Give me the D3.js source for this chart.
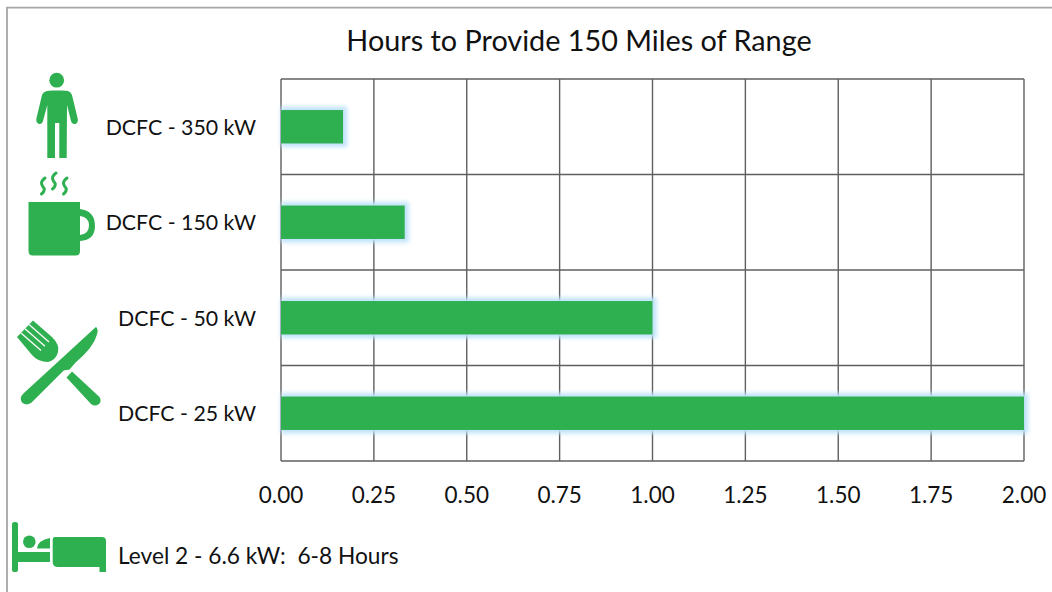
<!DOCTYPE html>
<html>
<head>
<meta charset="utf-8">
<script src="https://cdn.jsdelivr.net/npm/d3@7"></script>
<style>
  html, body { margin: 0; padding: 0; background: #fff; }
  text { font-family: Lato, "Open Sans", sans-serif; fill: #111; white-space: pre; }
</style>
</head>
<body>
<div id="chart"></div>
<script>
const categories = ["DCFC - 350 kW", "DCFC - 150 kW", "DCFC - 50 kW", "DCFC - 25 kW"];
const hours = [0.167, 0.333, 1.0, 2.0];
const xTicks = [0, 0.25, 0.5, 0.75, 1, 1.25, 1.5, 1.75, 2];
const chartTitle = "Hours to Provide 150 Miles of Range";
const footnote = "Level 2 - 6.6 kW:  6-8 Hours";

const outerWidth = 1052, outerHeight = 592;
const margin = { left: 281, top: 79, right: 28, bottom: 131 };
const green = "#2fb050", gridColor = "#5f5f5f";

const x = d3.scaleLinear().domain([0, 2]).range([margin.left, outerWidth - margin.right]);
const y = d3.scaleBand().domain(categories)
    .range([margin.top, outerHeight - margin.bottom])
    .paddingInner(0.65).paddingOuter(0.325);
const rows = d3.scaleBand().domain(categories)
    .range([margin.top, outerHeight - margin.bottom]);

const svg = d3.select("#chart").append("svg")
    .attr("width", outerWidth)
    .attr("height", outerHeight)
    .style("display", "block");

const defs = svg.append("defs");
const glow = defs.append("filter").attr("id", "glow")
    .attr("x", "-10%").attr("y", "-40%").attr("width", "120%").attr("height", "180%");
glow.append("feGaussianBlur").attr("stdDeviation", 2.2);

// picture frame, only top and left show
svg.append("path")
    .attr("d", d3.line()([[7, outerHeight], [7, 7.7], [outerWidth, 7.7]]))
    .attr("fill", "none").attr("stroke", "#a6a6a6").attr("stroke-width", 1.8);

svg.append("text")
    .attr("x", 579).attr("y", 51)
    .attr("text-anchor", "middle")
    .style("font-size", "28.8px")
    .text(chartTitle);

// gridlines
const grid = svg.append("g").attr("fill", "none").attr("stroke", gridColor).attr("stroke-width", 1.4);
grid.selectAll(".v").data(xTicks).enter().append("line")
    .attr("x1", d => x(d)).attr("x2", d => x(d))
    .attr("y1", margin.top).attr("y2", outerHeight - margin.bottom);
grid.selectAll(".h").data(categories.concat("end")).enter().append("line")
    .attr("x1", margin.left).attr("x2", outerWidth - margin.right)
    .attr("y1", (d, i) => margin.top + i * rows.step())
    .attr("y2", (d, i) => margin.top + i * rows.step());

// bars with the pale blue halo
svg.append("g").attr("filter", "url(#glow)").selectAll("rect")
    .data(hours).enter().append("rect")
    .attr("x", x(0))
    .attr("y", (d, i) => y(categories[i]) - 3.5)
    .attr("width", d => x(d) - x(0) + 4)
    .attr("height", y.bandwidth() + 7)
    .attr("fill", "#bfe3fa");
svg.append("g").selectAll("rect")
    .data(hours).enter().append("rect")
    .attr("x", x(0))
    .attr("y", (d, i) => y(categories[i]))
    .attr("width", d => x(d) - x(0))
    .attr("height", y.bandwidth())
    .attr("fill", green);

// category labels
svg.append("g").selectAll("text")
    .data(categories).enter().append("text")
    .attr("x", 256)
    .attr("y", d => rows(d) + rows.bandwidth() / 2 + 8)
    .attr("text-anchor", "end")
    .style("font-size", "21.3px")
    .text(d => d);

// x axis labels
svg.append("g").selectAll("text")
    .data(xTicks).enter().append("text")
    .attr("x", d => x(d))
    .attr("y", 503)
    .attr("text-anchor", "middle")
    .style("font-size", "22.5px")
    .text(d => d.toFixed(2));

svg.append("text")
    .attr("x", 118).attr("y", 564)
    .style("font-size", "22.7px")
    .text(footnote);

// icons
const icons = svg.append("g").attr("fill", green);

// person
const person = icons.append("g");
person.append("circle").attr("cx", 56.7).attr("cy", 80.2).attr("r", 7.4);
person.append("path").attr("d",
  "M47 91 Q49 90.5 52 90.5 L62 90.5 Q66 90.5 68 91 Q71 92 72 95 L77.8 119 Q78.3 123 75.3 124 Q72 124.5 71 121 L67 105 L66.7 158 L59.3 158 L59.3 123 L55 123 L55 158 L47.3 158 L47.3 105 L43 121 Q42 124.5 39 124 Q36 123 36.3 119 L42 95 Q43 92 47 91 Z");

// mug
icons.append("path").attr("fill-rule", "evenodd").attr("d",
  "M28.5 202 L80 202 L80 209 Q95 211 95 226 Q95 240 80 241 L80 251 Q80 255.5 75.5 255.5 L33 255.5 Q28.5 255.5 28.5 251 Z M80 216 L80 235 Q89 234 89 225.5 Q89 217 80 216 Z");
// steam
icons.append("g").attr("fill", "none").attr("stroke", green).attr("stroke-width", 3).attr("stroke-linecap", "round")
  .selectAll("path").data([[43, 178], [54, 173], [65, 178]]).enter().append("path")
  .attr("transform", d => "translate(" + d[0] + "," + d[1] + ")")
  .attr("d", "M2 0 Q-3.5 4 -0.5 8 Q3.5 12 -1.5 16");

// fork and knife
const cutlery = icons.append("g");
cutlery.append("path").attr("d",
  "M33 320.5 L52 337 Q60 345 58 352 Q56 360 48 362 Q38 362 32 355 L17 337 Z");
cutlery.append("g").attr("stroke", "#fff").attr("stroke-width", 1.3)
  .selectAll("line").data([[29, 324.6], [25, 328.7], [21, 332.9]]).enter().append("line")
  .attr("x1", d => d[0]).attr("y1", d => d[1])
  .attr("x2", d => d[0] + 20).attr("y2", d => d[1] + 17.5);
cutlery.append("path").attr("stroke", "#fff").attr("stroke-width", 1.2).attr("d",
  "M96 326 Q99.5 329 97.5 335 Q94 348 76 363 L70 370 L64 371 L32 403 Q26 407 21.5 403 Q18 398 23 393 Z");
cutlery.append("path").attr("d",
  "M72 371.5 L99.5 397 Q102 401 99 404 Q95 407 91 404 L66.5 377.5 Z");

// bed
const bed = icons.append("g");
bed.append("path").attr("d", "M12 524 Q12 522 15 522 Q18 522 18 524 L18 552 L50 552 L50 562 L18 562 L18 570 Q18 572 15 572 Q12 572 12 570 Z");
bed.append("circle").attr("cx", 29.3).attr("cy", 541.7).attr("r", 6.3);
bed.append("path").attr("d", "M37 548.5 Q38 540 50 538 L50 548.5 Z");
bed.append("path").attr("d", "M55 537 L102 537 Q106 537 106 541 L106 572 L99.5 572 L99.5 567 L58 567 Q52.7 567 52.7 562 L52.7 540 Q52.7 537 55 537 Z");
</script>
</body>
</html>
